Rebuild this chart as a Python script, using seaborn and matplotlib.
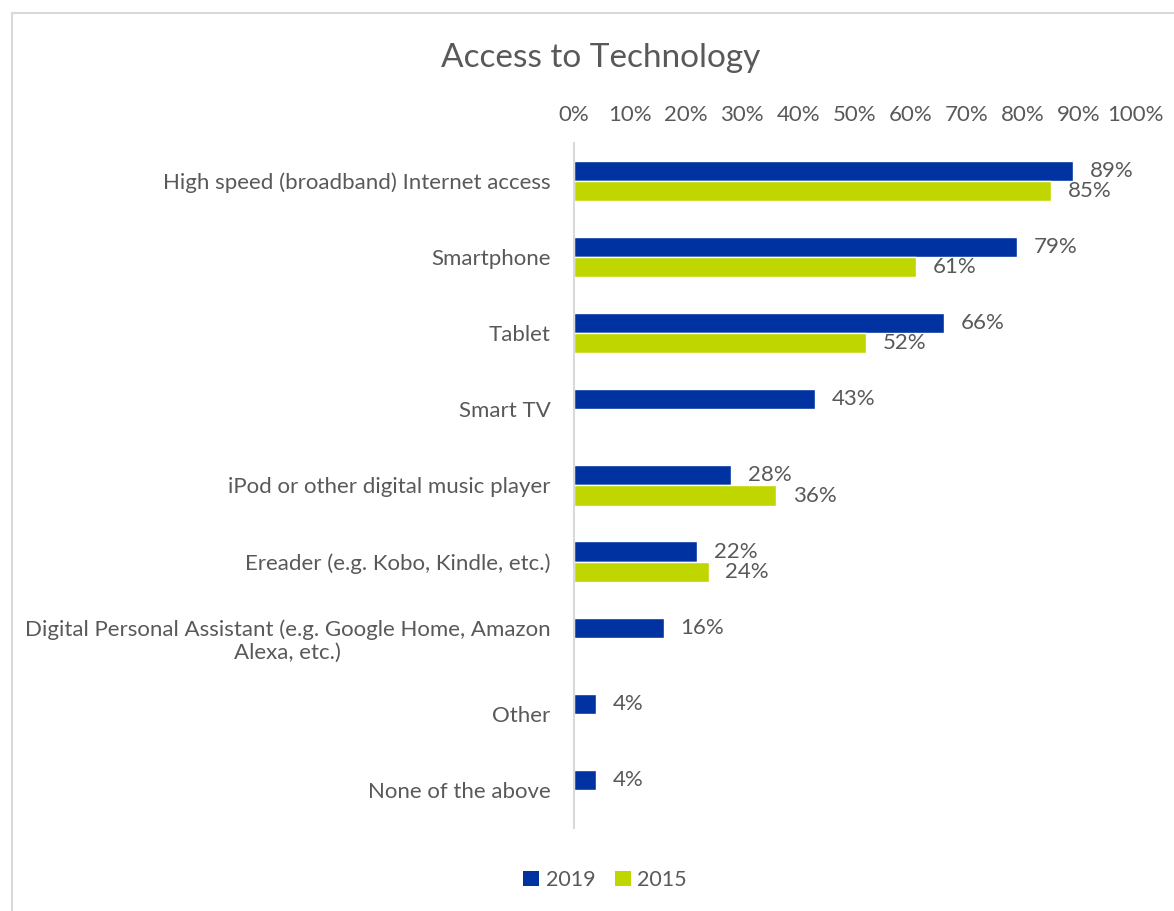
import numpy as np
import pandas as pd
import matplotlib
matplotlib.use("Agg")
import matplotlib.pyplot as plt
from matplotlib.patches import Rectangle, Patch
import seaborn as sns

categories = [
    "High speed (broadband) Internet access",
    "Smartphone",
    "Tablet",
    "Smart TV",
    "iPod or other digital music player",
    "Ereader (e.g. Kobo, Kindle, etc.)",
    "Digital Personal Assistant (e.g. Google Home, Amazon\nAlexa, etc.)",
    "Other",
    "None of the above",
]
values_2019 = [89, 79, 66, 43, 28, 22, 16, 4, 4]
values_2015 = [85, 61, 52, np.nan, 36, 24, np.nan, np.nan, np.nan]
years = ["2019", "2015"]
x_ticks = [0, 10, 20, 30, 40, 50, 60, 70, 80, 90, 100]

BLUE = "#0033A1"
LIME = "#BFD600"
TEXT = "#595959"
LINE = "#D9D9D9"
FS = 16

sns.set_theme(style="white")
plt.rcParams["font.family"] = ["Lato", "DejaVu Sans"]

df = pd.DataFrame({
    "category": categories * 2,
    "year": [years[0]] * len(categories) + [years[1]] * len(categories),
    "value": values_2019 + values_2015,
})

W, H = 1174, 911
fig = plt.figure(figsize=(W / 100, H / 100), dpi=100)
ax = fig.add_axes([574 / W, 1 - 828 / H, (1135 - 574) / W, (828 - 143) / H])

sns.barplot(
    data=df, x="value", y="category", hue="year", hue_order=years,
    order=categories, palette=[BLUE, LIME], width=0.53, orient="h",
    saturation=1, ax=ax, legend=False,
)

# value labels beside each bar; years without data stay unlabeled
for cont in ax.containers:
    labels = ["" if (not np.isfinite(b.get_width()) or b.get_width() == 0)
              else f"{b.get_width():.0f}%" for b in cont]
    ax.bar_label(cont, labels=labels, padding=12, fontsize=FS, color=TEXT)

ax.set_xlim(0, 100)
ax.set_ylim(len(categories) - 0.5, -0.5)
ax.set_xticks(x_ticks)
ax.set_xticklabels([f"{t}%" for t in x_ticks])
ax.xaxis.tick_top()
ax.tick_params(axis="x", length=0, pad=13, labelsize=FS, labelcolor=TEXT)
ax.tick_params(axis="y", length=0, pad=17, labelsize=FS, labelcolor=TEXT)
for lab in ax.get_yticklabels():
    lab.set_multialignment("center")
ax.set_xlabel("")
ax.set_ylabel("")
for side in ["top", "right", "bottom"]:
    ax.spines[side].set_visible(False)
ax.spines["left"].set_color(LINE)
ax.spines["left"].set_linewidth(1.5)

fig.text(601 / W, 1 - 58 / H, "Access to Technology", ha="center", va="center",
         fontsize=24, color=TEXT)

handles = [Patch(facecolor=BLUE, edgecolor="none"), Patch(facecolor=LIME, edgecolor="none")]
fig.legend(handles, years, loc="center", bbox_to_anchor=(605 / W, 1 - 880 / H),
           ncol=2, frameon=False, fontsize=15.5, labelcolor=TEXT,
           handlelength=0.75, handleheight=0.75, handletextpad=0.3, columnspacing=0.9)

# light frame around the chart area
fig.add_artist(Rectangle((11.5 / W, -0.05), 1.2, (1 - 12.5 / H) + 0.05,
                         transform=fig.transFigure, fill=False,
                         edgecolor=LINE, linewidth=1.5))

fig.savefig("out.png", dpi=100)
